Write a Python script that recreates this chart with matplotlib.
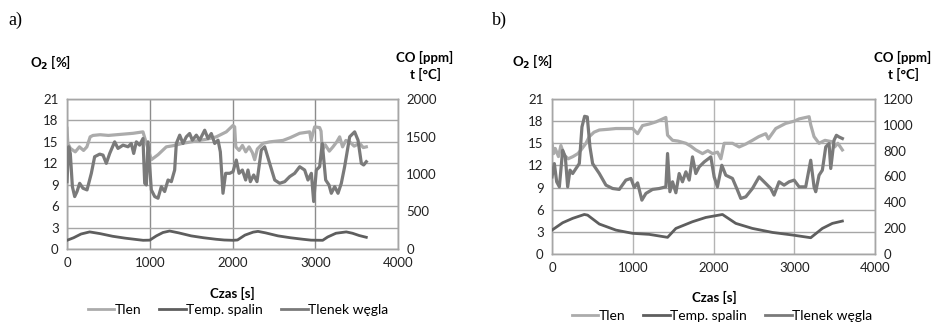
import matplotlib
matplotlib.use("Agg")
import matplotlib.pyplot as plt
from matplotlib.lines import Line2D

plt.rcParams['font.family'] = ['Lato', 'DejaVu Sans']

# ---------------- Panel a data ----------------
a_tlen_t = [0, 10, 40, 100, 150, 200, 240, 280, 314, 400, 500, 600, 700, 800, 918, 959, 1019, 1100, 1200, 1300, 1400, 1500, 1600, 1700, 1804, 1925, 2006, 2026, 2040, 2080, 2120, 2160, 2200, 2240, 2268, 2300, 2369, 2450, 2530, 2610, 2700, 2812, 2933, 2950, 2993, 3053, 3070, 3085, 3120, 3170, 3214, 3260, 3295, 3330, 3370, 3416, 3470, 3537, 3580, 3617]
a_tlen = [16.9, 14.8, 14.1, 13.6, 14.3, 13.8, 14.3, 15.7, 15.9, 16.0, 15.9, 16.0, 16.1, 16.2, 16.4, 14.8, 12.5, 13.2, 14.3, 14.5, 14.8, 15.0, 15.2, 15.4, 15.7, 16.4, 17.3, 17.1, 14.3, 13.8, 14.5, 13.6, 14.3, 13.5, 12.5, 14.0, 14.8, 15.0, 15.1, 15.2, 15.6, 16.2, 16.4, 15.2, 17.1, 17.0, 16.5, 13.8, 14.6, 13.7, 14.3, 15.0, 15.7, 14.3, 15.2, 15.0, 14.4, 14.8, 14.2, 14.3]

a_co_t = [0, 20, 40, 65, 93, 121, 153, 193, 242, 294, 334, 395, 435, 475, 516, 576, 616, 677, 737, 777, 806, 838, 878, 918, 939, 959, 979, 1019, 1060, 1100, 1140, 1180, 1221, 1261, 1301, 1321, 1362, 1402, 1442, 1482, 1515, 1563, 1603, 1664, 1704, 1744, 1785, 1825, 1853, 1885, 1917, 1966, 2006, 2046, 2079, 2119, 2159, 2187, 2216, 2256, 2296, 2348, 2389, 2449, 2510, 2570, 2631, 2691, 2751, 2812, 2872, 2912, 2953, 2981, 3013, 3053, 3085, 3126, 3166, 3194, 3235, 3275, 3315, 3355, 3416, 3476, 3517, 3557, 3585, 3617]
a_co = [898, 1363, 1274, 832, 699, 766, 876, 810, 788, 1009, 1230, 1265, 1252, 1142, 1274, 1429, 1341, 1385, 1363, 1407, 1274, 1429, 1385, 1473, 876, 854, 1429, 788, 699, 677, 832, 766, 920, 898, 1053, 1407, 1518, 1407, 1496, 1540, 1451, 1518, 1451, 1584, 1473, 1540, 1407, 1451, 1296, 743, 1009, 1009, 1031, 1186, 1009, 1053, 920, 1053, 898, 987, 898, 1319, 1363, 1142, 920, 876, 898, 965, 1009, 1097, 1053, 920, 1009, 633, 1053, 1097, 1407, 920, 854, 743, 832, 743, 876, 1097, 1496, 1562, 1451, 1142, 1120, 1164]

a_temp_t = [0, 80, 170, 274, 400, 550, 700, 850, 920, 1000, 1080, 1160, 1240, 1350, 1500, 1650, 1800, 1900, 2005, 2060, 2150, 2250, 2308, 2400, 2550, 2700, 2850, 2950, 3090, 3150, 3250, 3375, 3450, 3530, 3617]
a_temp = [116, 150, 200, 228, 205, 170, 145, 125, 116, 118, 175, 220, 240, 215, 175, 150, 130, 120, 116, 120, 185, 225, 235, 215, 175, 150, 130, 118, 116, 160, 210, 228, 210, 180, 156]

# ---------------- Panel b data ----------------
b_tlen_t = [0, 20, 40, 80, 110, 150, 200, 260, 320, 360, 420, 462, 520, 586, 700, 792, 900, 998, 1060, 1121, 1200, 1287, 1350, 1410, 1431, 1493, 1560, 1658, 1720, 1781, 1864, 1930, 1988, 2050, 2091, 2132, 2235, 2318, 2400, 2482, 2560, 2647, 2680, 2771, 2895, 3000, 3060, 3184, 3204, 3245, 3307, 3380, 3472, 3500, 3540, 3596]
b_tlen = [15.0, 13.6, 14.3, 13.2, 14.7, 13.4, 12.9, 13.2, 13.6, 14.1, 15.0, 15.9, 16.5, 16.8, 16.9, 17.0, 17.0, 17.0, 16.3, 17.4, 17.6, 17.9, 18.2, 18.5, 16.1, 15.4, 15.3, 15.0, 14.6, 14.1, 13.6, 14.0, 13.6, 13.8, 12.9, 15.0, 15.0, 14.5, 14.9, 15.4, 15.9, 16.3, 15.6, 17.0, 17.7, 18.0, 18.3, 18.6, 17.5, 15.9, 15.0, 15.4, 15.2, 14.5, 15.0, 14.1]

b_co_t = [0, 29, 58, 91, 132, 165, 194, 223, 256, 297, 338, 371, 404, 437, 470, 503, 586, 668, 751, 833, 915, 977, 1019, 1060, 1113, 1163, 1245, 1328, 1410, 1431, 1460, 1493, 1534, 1575, 1616, 1658, 1699, 1740, 1781, 1822, 1885, 1967, 2008, 2049, 2103, 2152, 2235, 2297, 2338, 2400, 2482, 2565, 2647, 2709, 2750, 2812, 2874, 2936, 2998, 3060, 3142, 3204, 3245, 3266, 3307, 3348, 3390, 3431, 3452, 3493, 3522, 3555, 3596]
b_co = [597, 700, 559, 520, 803, 752, 520, 649, 623, 662, 700, 984, 1066, 1061, 829, 700, 623, 533, 507, 500, 572, 585, 515, 551, 417, 469, 500, 507, 520, 778, 482, 559, 474, 623, 559, 636, 572, 752, 623, 674, 713, 752, 597, 520, 687, 610, 585, 494, 430, 443, 507, 597, 546, 507, 456, 559, 533, 559, 572, 520, 520, 726, 520, 482, 610, 649, 829, 855, 662, 881, 919, 906, 894]

b_temp_t = [0, 132, 256, 400, 441, 586, 792, 998, 1204, 1431, 1534, 1740, 1905, 2111, 2276, 2482, 2730, 2977, 3204, 3348, 3472, 3596]
b_temp = [185, 242, 276, 306, 301, 232, 185, 160, 152, 129, 198, 250, 283, 306, 237, 198, 167, 147, 126, 198, 237, 255]

x_ticks = [0, 1000, 2000, 3000, 4000]
o2_ticks = [0, 3, 6, 9, 12, 15, 18, 21]
a_right_ticks = [0, 500, 1000, 1500, 2000]
b_right_ticks = [0, 200, 400, 600, 800, 1000, 1200]
series_names = ["Tlen", "Temp. spalin", "Tlenek węgla"]

C_TLEN = "#ababab"
C_TEMP = "#5e5e5e"
C_CO = "#7a7a7a"
GRID = "#a6a6a6"
FS = 9.5

fig = plt.figure(figsize=(9.36, 3.23), dpi=100)
W, H = 936, 323


def make_panel(rect, tlen_t, tlen, co_t, co, temp_t, temp, rticks, rmax,
               letter_xy, o2_xy, co_xy, czas_xy, leg_xy, vgrid_color):
    l, t, r, b = rect
    ax = fig.add_axes([l / W, 1 - b / H, (r - l) / W, (b - t) / H])
    ax2 = ax.twinx()
    ax.set_xlim(0, 4000)
    ax.set_ylim(0, 21)
    ax2.set_ylim(0, rmax)
    ax.set_xticks(x_ticks)
    ax.set_yticks(o2_ticks)
    ax2.set_yticks(rticks)
    for a_ in (ax, ax2):
        a_.tick_params(length=0, labelsize=FS, colors="#222222", pad=6)
        for s in a_.spines.values():
            s.set_color(GRID)
            s.set_linewidth(1.0)
    ax.yaxis.grid(True, color=GRID, lw=1.0)
    ax.xaxis.grid(True, color=vgrid_color, lw=1.0)
    ax.set_axisbelow(True)
    ax.plot(tlen_t, tlen, color=C_TLEN, lw=2.3, zorder=3)
    ax2.plot(co_t, co, color=C_CO, lw=2.3, zorder=3)
    ax2.plot(temp_t, temp, color=C_TEMP, lw=2.0, zorder=3)
    fig.text(letter_xy[0] / W, 1 - letter_xy[1] / H, letter_xy[2],
             family="Liberation Serif", fontsize=13, ha="left", va="center")
    fig.text(o2_xy[0] / W, 1 - o2_xy[1] / H, "O$_\\mathbf{2}$ [%]",
             fontsize=FS, fontweight="bold", ha="left", va="center")
    fig.text(co_xy[0] / W, 1 - co_xy[1] / H, "CO [ppm]\nt [°C]",
             fontsize=FS, fontweight="bold", ha="center", va="center",
             linespacing=1.4)
    fig.text(czas_xy[0] / W, 1 - czas_xy[1] / H, "Czas [s]",
             fontsize=FS, fontweight="bold", ha="center", va="center")
    handles = [Line2D([], [], color=C_TLEN, lw=2.0),
               Line2D([], [], color=C_TEMP, lw=2.0),
               Line2D([], [], color=C_CO, lw=2.0)]
    fig.legend(handles, series_names, loc="center",
               bbox_to_anchor=(leg_xy[0] / W, 1 - leg_xy[1] / H),
               ncol=3, frameon=False, fontsize=10, handlelength=1.9,
               handletextpad=0.05, columnspacing=1.3, borderpad=0.0)
    return ax


make_panel((67, 99, 398, 249), a_tlen_t, a_tlen, a_co_t, a_co, a_temp_t, a_temp,
           a_right_ticks, 2000, (8, 20, "a)"), (30, 63), (425, 66), (232, 293),
           (238, 310), "#8c8c8c")
make_panel((552, 99, 875, 254), b_tlen_t, b_tlen, b_co_t, b_co, b_temp_t, b_temp,
           b_right_ticks, 1200, (492, 20, "b)"), (512, 62), (903, 66), (714, 297),
           (722, 316), "#b4b4b4")

fig.savefig("out.png", dpi=100)
